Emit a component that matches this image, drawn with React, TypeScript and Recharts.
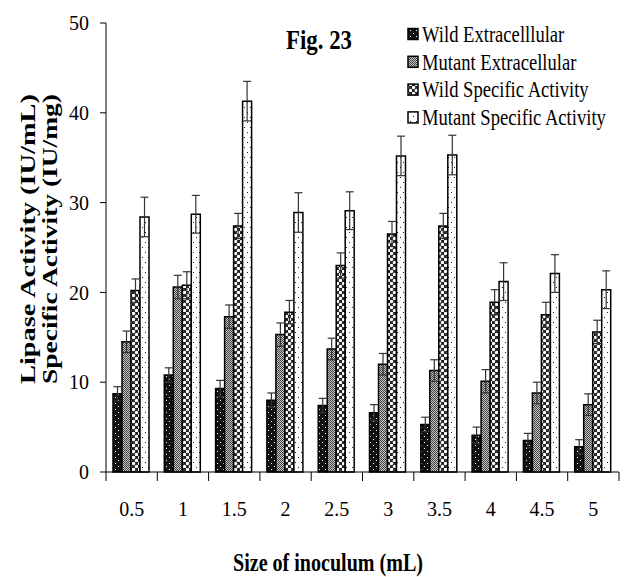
import { BarChart, Bar, XAxis, YAxis, Legend, ErrorBar } from 'recharts'

const sizes = ['0.5', '1', '1.5', '2', '2.5', '3', '3.5', '4', '4.5', '5']

const wildExtracellular = [8.7, 10.8, 9.3, 8.0, 7.4, 6.6, 5.3, 4.1, 3.5, 2.8]
const mutantExtracellular = [14.5, 20.6, 17.3, 15.3, 13.7, 12.0, 11.3, 10.1, 8.8, 7.5]
const wildSpecific = [20.2, 20.8, 27.4, 17.8, 23.0, 26.5, 27.4, 18.9, 17.5, 15.6]
const mutantSpecific = [28.4, 28.7, 41.3, 28.9, 29.1, 35.2, 35.3, 21.2, 22.1, 20.3]

const wildExtErr = [0.8, 0.8, 0.9, 0.8, 0.8, 0.9, 0.8, 0.9, 0.8, 0.8]
const mutantExtErr = [1.2, 1.3, 1.3, 1.3, 1.2, 1.2, 1.2, 1.3, 1.2, 1.2]
const wildSpecErr = [1.3, 1.5, 1.4, 1.3, 1.4, 1.4, 1.4, 1.4, 1.4, 1.3]
const mutantSpecErr = [2.2, 2.1, 2.2, 2.2, 2.1, 2.2, 2.2, 2.1, 2.1, 2.1]

const yTicks = [0, 10, 20, 30, 40, 50]

const data = sizes.map((size, i) => ({
  size,
  wildExt: wildExtracellular[i],
  wildExtErr: wildExtErr[i],
  mutExt: mutantExtracellular[i],
  mutExtErr: mutantExtErr[i],
  wildSpec: wildSpecific[i],
  wildSpecErr: wildSpecErr[i],
  mutSpec: mutantSpecific[i],
  mutSpecErr: mutantSpecErr[i],
}))

const serif = '"Liberation Serif", "Times New Roman", serif'

const series = [
  { key: 'wildExt', err: 'wildExtErr', name: 'Wild Extracelllular', fill: 'url(#pWildExt)' },
  { key: 'mutExt', err: 'mutExtErr', name: 'Mutant Extracellular', fill: 'url(#pMutExt)' },
  { key: 'wildSpec', err: 'wildSpecErr', name: 'Wild Specific Activity', fill: 'url(#pWildSpec)' },
  { key: 'mutSpec', err: 'mutSpecErr', name: 'Mutant Specific Activity', fill: 'url(#pMutSpec)' },
]

// half of one category band, used for the boundary tick marks
const HALF_BAND = 25.65

function SizeTick({ x, y, payload, index }: any) {
  return (
    <g>
      <line x1={x - HALF_BAND} x2={x - HALF_BAND} y1={y} y2={y + 9} stroke="#000" />
      {index === sizes.length - 1 && (
        <line x1={x + HALF_BAND} x2={x + HALF_BAND} y1={y} y2={y + 9} stroke="#000" />
      )}
      <text x={x} y={y + 44} textAnchor="middle" fontSize={20} fontFamily={serif} fill="#000">
        {payload.value}
      </text>
    </g>
  )
}

function FigLegend() {
  return (
    <svg width={227} height={125}>
      {series.map((s, i) => (
        <g key={s.key}>
          <rect x={8} y={14.5 + i * 27.8} width={10} height={11} fill={s.fill} stroke="#000" strokeWidth={1.5} />
          <text
            transform={`translate(22,${27.8 + i * 27.8}) scale(0.775,1)`}
            fontSize={24}
            fontFamily={serif}
            fill="#000"
          >
            {s.name}
          </text>
        </g>
      ))}
    </svg>
  )
}

export default function App() {
  return (
    <div style={{ position: 'absolute', left: 0, top: 0, background: '#fff' }}>
      <BarChart
        width={627}
        height={577}
        data={data}
        margin={{ top: 23, right: 8, left: 46, bottom: 45 }}
        barCategoryGap={7}
        barGap={0}
      >
        <defs>
          <pattern id="pWildExt" width={6} height={6} patternUnits="userSpaceOnUse">
            <rect width={6} height={6} fill="#111" />
            <rect x={1} y={1} width={1} height={1} fill="#fff" />
            <rect x={4} y={4} width={1} height={1} fill="#fff" />
          </pattern>
          <pattern id="pMutExt" width={2} height={2} patternUnits="userSpaceOnUse">
            <rect width={2} height={2} fill="#c4c4c4" />
            <rect width={1} height={1} fill="#444" />
            <rect x={1} y={1} width={1} height={1} fill="#444" />
          </pattern>
          <pattern id="pWildSpec" width={6} height={6} patternUnits="userSpaceOnUse">
            <rect width={6} height={6} fill="#222" />
            <circle cx={1.5} cy={1.5} r={1.7} fill="#fff" />
            <circle cx={4.5} cy={4.5} r={1.7} fill="#fff" />
          </pattern>
          <pattern id="pMutSpec" width={6} height={10} patternUnits="userSpaceOnUse">
            <rect width={6} height={10} fill="#fff" />
            <rect x={1} y={2} width={1} height={1} fill="#222" />
            <rect x={4} y={7} width={1} height={1} fill="#222" />
          </pattern>
        </defs>

        <XAxis
          dataKey="size"
          height={60}
          stroke="#000"
          tickLine={false}
          tickSize={0}
          tickMargin={0}
          tick={<SizeTick />}
          interval={0}
        />
        <YAxis
          width={60}
          domain={[0, 50]}
          ticks={yTicks}
          stroke="#000"
          tickSize={6}
          tickMargin={11}
          tick={{ fontSize: 20, fontFamily: serif, fill: '#000' }}
        />
        <Legend
          layout="vertical"
          align="center"
          verticalAlign="middle"
          content={<FigLegend />}
          wrapperStyle={{ left: 400, top: 14, width: 227, height: 125 }}
        />

        {series.map((s) => (
          <Bar key={s.key} dataKey={s.key} name={s.name} fill={s.fill} stroke="#000" strokeWidth={1.5} isAnimationActive={false}>
            <ErrorBar dataKey={s.err} width={4} stroke="#333" strokeWidth={1.2} direction="y" />
          </Bar>
        ))}

        <text x={286} y={49} fontSize={28} fontWeight="bold" fontFamily={serif} textLength={66} lengthAdjust="spacingAndGlyphs" fill="#000">
          Fig. 23
        </text>
        <text x={233} y={571} fontSize={26} fontWeight="bold" fontFamily={serif} textLength={190} lengthAdjust="spacingAndGlyphs" fill="#000">
          Size of inoculum (mL)
        </text>
        <text transform="translate(35,384) rotate(-90)" fontSize={22} fontWeight="bold" fontFamily={serif} textLength={290} lengthAdjust="spacingAndGlyphs" fill="#000">
          Lipase Activity (IU/mL)
        </text>
        <text transform="translate(57,384) rotate(-90)" fontSize={22} fontWeight="bold" fontFamily={serif} textLength={290} lengthAdjust="spacingAndGlyphs" fill="#000">
          Specific Activity (IU/mg)
        </text>
      </BarChart>
    </div>
  )
}
